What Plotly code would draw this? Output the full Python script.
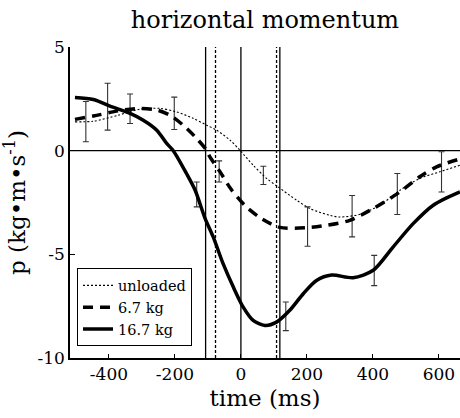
import plotly.graph_objects as go

# Time axis (ms) and horizontal momentum (kg·m·s^-1) for each load condition
t_unloaded = [-503, -447, -372, -306, -245, -195, -145, -104, -74, -33, -3, 37, 78,
              113, 169, 209, 270, 300, 361, 421, 482, 542, 603, 664]
p_unloaded = [1.39, 1.42, 1.71, 2.00, 2.04, 1.87, 1.56, 1.23, 0.99, 0.51, 0.02, -0.70,
              -1.34, -1.75, -2.39, -2.79, -3.12, -3.20, -3.07, -2.63, -1.91, -1.34,
              -1.02, -0.70]

t_67 = [-503, -447, -372, -306, -255, -215, -175, -134, -104, -94, -64, -28, 17, 63,
        118, 199, 260, 330, 401, 482, 542, 593, 664]
p_67 = [1.51, 1.67, 1.92, 2.04, 1.96, 1.71, 1.23, 0.59, 0.02, -0.30, -1.00, -1.90,
        -2.72, -3.28, -3.70, -3.71, -3.60, -3.36, -2.79, -1.99, -1.26, -0.78, -0.40]

t_167 = [-503, -447, -397, -336, -296, -255, -225, -205, -165, -139, -109, -84, -54,
         -23, 7, 37, 73, 108, 148, 189, 229, 275, 340, 401, 461, 522, 583, 664]
p_167 = [2.57, 2.47, 2.15, 1.80, 1.47, 0.99, 0.35, 0.00, -1.10, -1.90, -3.25, -4.16,
         -5.45, -6.58, -7.55, -8.19, -8.43, -8.27, -7.70, -6.90, -6.26, -6.00, -6.13,
         -5.77, -4.65, -3.52, -2.63, -1.99]

# Standard-deviation bars (time, mean, half-width)
sd_t_unloaded = [-470, -202, 68, 337, 608]
sd_m_unloaded = [1.40, 1.80, -1.19, -3.16, -1.02]
sd_e_unloaded = [0.97, 0.78, 0.44, 1.00, 0.97]

sd_t_67 = [-336, -66, 202, 474]
sd_m_67 = [2.02, -1.00, -3.66, -2.09]
sd_e_67 = [0.71, 0.51, 0.95, 0.99]

sd_t_167 = [-404, -134, 136, 404]
sd_m_167 = [2.12, -2.11, -7.99, -5.78]
sd_e_167 = [1.13, 0.60, 0.69, 0.73]

# Event markers (ms)
solid_events = [-107, 0, 118]
dashed_events = [-77, 108]

x_ticks = [-400, -200, 0, 200, 400, 600]
x_ticktext = ["-400", "-200", "0", "200", "400", "600"]
y_ticks = [5, 0, -5, -10]
y_ticktext = ["5", "0", "-5", "-10"]

FONT = "DejaVu Serif"

fig = go.Figure()

# Reference lines
for t in solid_events:
    fig.add_shape(type="line", x0=t, x1=t, y0=-10, y1=5, xref="x", yref="y",
                  line=dict(color="black", width=1.3), layer="below")
for t in dashed_events:
    fig.add_shape(type="line", x0=t, x1=t, y0=-10, y1=5, xref="x", yref="y",
                  line=dict(color="black", width=1.3, dash="3px,2px"), layer="below")
fig.add_shape(type="line", x0=-518, x1=664, y0=0, y1=0, xref="x", yref="y",
              line=dict(color="black", width=1.3), layer="below")

# Error bars
for tt, mm, ee in [(sd_t_unloaded, sd_m_unloaded, sd_e_unloaded),
                   (sd_t_67, sd_m_67, sd_e_67),
                   (sd_t_167, sd_m_167, sd_e_167)]:
    fig.add_trace(go.Scatter(
        x=tt, y=mm, mode="markers",
        marker=dict(size=1, color="rgba(0,0,0,0)"),
        error_y=dict(type="data", array=ee, visible=True, color="#333333",
                     thickness=1.1, width=3),
        showlegend=False, hoverinfo="skip"))

# Momentum curves
fig.add_trace(go.Scatter(x=t_unloaded, y=p_unloaded, mode="lines", name="unloaded",
                         line=dict(color="black", width=1.1, dash="2px,2px",
                                   shape="spline", smoothing=0.8)))
fig.add_trace(go.Scatter(x=t_67, y=p_67, mode="lines", name="6.7 kg",
                         line=dict(color="black", width=3.5, dash="10px,7px",
                                   shape="spline", smoothing=0.8)))
fig.add_trace(go.Scatter(x=t_167, y=p_167, mode="lines", name="16.7 kg",
                         line=dict(color="black", width=3.5,
                                   shape="spline", smoothing=0.8)))

fig.update_layout(
    width=460, height=418,
    margin=dict(l=70, r=0, t=47, b=60),
    paper_bgcolor="white", plot_bgcolor="white",
    font=dict(family=FONT, color="black", size=17),
    title=dict(text="horizontal momentum", x=0.576, xanchor="center",
               y=0.952, yanchor="middle", yref="container",
               font=dict(family=FONT, size=24, color="black")),
    legend=dict(x=0.018, y=0.288, xanchor="left", yanchor="top",
                bgcolor="white", bordercolor="black", borderwidth=1,
                font=dict(family=FONT, size=14.5, color="black"),
                tracegroupgap=0),
    showlegend=True,
)

fig.update_xaxes(range=[-518, 664], tickvals=x_ticks, ticktext=x_ticktext,
                 ticks="inside", ticklen=4, tickcolor="black", tickwidth=1,
                 showline=True, linecolor="black", linewidth=2,
                 showgrid=False, zeroline=False,
                 tickfont=dict(family=FONT, size=17, color="black"),
                 title=dict(text="time (ms)", standoff=6,
                            font=dict(family=FONT, size=23, color="black")))
fig.update_yaxes(range=[-10, 5], tickvals=y_ticks, ticktext=y_ticktext,
                 ticks="inside", ticklen=5, tickcolor="black", tickwidth=1,
                 showline=True, linecolor="black", linewidth=1.5,
                 showgrid=False, zeroline=False,
                 tickfont=dict(family=FONT, size=17, color="black"),
                 title=dict(text="p (kg•m•s<sup>-1</sup>)", standoff=8,
                            font=dict(family=FONT, size=23, color="black")))

fig.write_html("out.html")
